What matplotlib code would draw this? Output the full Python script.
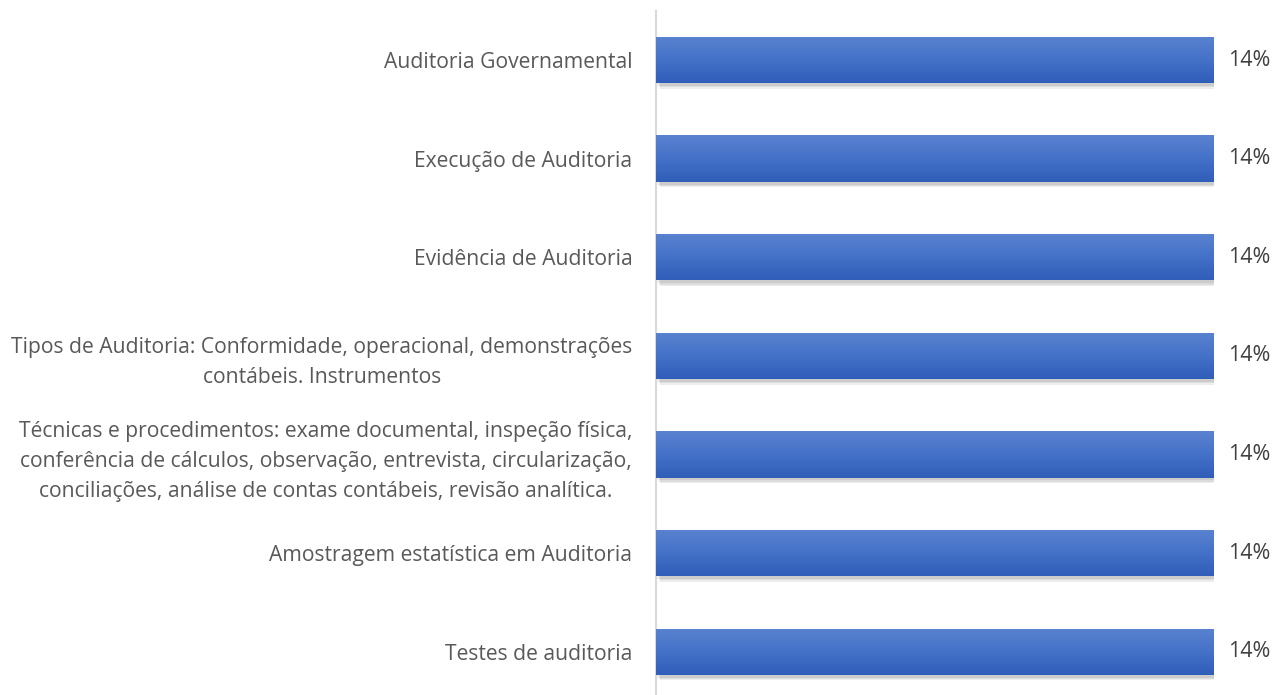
import matplotlib
matplotlib.use("Agg")
import matplotlib.pyplot as plt
import numpy as np
import matplotlib.patheffects as pe
from matplotlib.colors import LinearSegmentedColormap

categories = [
    "Auditoria Governamental",
    "Execução de Auditoria",
    "Evidência de Auditoria",
    "Tipos de Auditoria: Conformidade, operacional, demonstrações\ncontábeis. Instrumentos",
    "Técnicas e procedimentos: exame documental, inspeção física,\nconferência de cálculos, observação, entrevista, circularização,\nconciliações, análise de contas contábeis, revisão analítica.",
    "Amostragem estatística em Auditoria",
    "Testes de auditoria",
]
values = [0.14, 0.14, 0.14, 0.14, 0.14, 0.14, 0.14]
value_labels = ["14%"] * 7

plt.rcParams['font.family'] = ['Open Sans', 'DejaVu Sans']

W, H = 1276, 695
fig = plt.figure(figsize=(W / 100, H / 100), dpi=100)
left_px, right_px = 656, 1214
top_px, bot_px = 10.7, 701
ax = fig.add_axes([left_px / W, (H - bot_px) / H, (right_px - left_px) / W, (bot_px - top_px) / H])

y = np.arange(len(categories))
shadow = [pe.SimplePatchShadow(offset=(o, -o - 1), shadow_rgbFace="#000000", alpha=0.07)
          for o in (3, 2, 1)]
bars = ax.barh(y, values, height=0.47, color="#4472C4", zorder=2,
               path_effects=shadow + [pe.Normal()])

cmap = LinearSegmentedColormap.from_list("g", ["#5a82d0", "#4472c8", "#2f5db8"])
grad = np.linspace(0, 1, 256).reshape(-1, 1)
for b in bars:
    x0, y0 = b.get_x(), b.get_y()
    w, h = b.get_width(), b.get_height()
    im = ax.imshow(grad, cmap=cmap, aspect="auto", extent=(x0, x0 + w, y0 + h, y0), zorder=3)
    im.set_clip_path(b)

ax.set_xlim(0, 0.14)
ax.set_ylim(len(categories) - 0.5, -0.5)
ax.set_yticks(y)
ax.set_yticklabels(categories, fontsize=15.2, color="#595959", multialignment="center", linespacing=1.55)
ax.tick_params(axis="y", length=0, pad=17)
ax.set_xticks([])
for s in ["top", "right", "bottom"]:
    ax.spines[s].set_visible(False)
ax.spines["left"].set_color("#d9d9d9")
ax.spines["left"].set_linewidth(1.5)

for yi, v, lab in zip(y, values, value_labels):
    ax.annotate(lab, (v, yi), xytext=(10, 0), textcoords="offset points",
                va="center", ha="left", fontsize=15.5, color="#404040", annotation_clip=False)

fig.savefig("out.png", dpi=100, facecolor="white")
